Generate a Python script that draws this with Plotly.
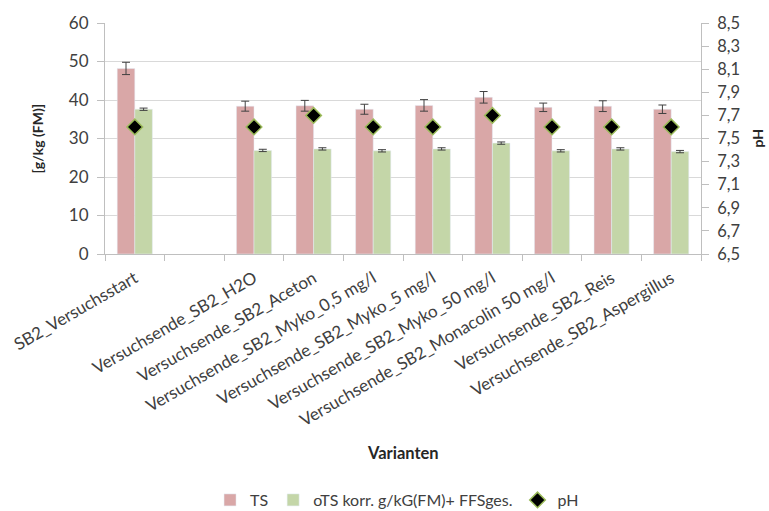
import plotly.graph_objects as go

categories = ["SB2_Versuchsstart", " ", "Versuchsende_SB2_H2O", "Versuchsende_SB2_Aceton",
              "Versuchsende_SB2_Myko_0,5 mg/l", "Versuchsende_SB2_Myko_5 mg/l",
              "Versuchsende_SB2_Myko_50 mg/l", "Versuchsende_SB2_Monacolin 50 mg/l",
              "Versuchsende_SB2_Reis", "Versuchsende_SB2_Aspergillus"]
ts_values = [48.2, None, 38.4, 38.5, 37.6, 38.6, 40.7, 38.1, 38.4, 37.6]
ts_errors = [1.6, None, 1.3, 1.4, 1.3, 1.5, 1.5, 1.1, 1.4, 1.1]
ots_values = [37.6, None, 26.9, 27.3, 26.8, 27.3, 28.8, 26.8, 27.3, 26.6]
ots_errors = [0.3, None, 0.3, 0.3, 0.3, 0.3, 0.3, 0.3, 0.3, 0.3]
ph_values = [7.6, None, 7.6, 7.7, 7.6, 7.6, 7.7, 7.6, 7.6, 7.6]

FONT = "Lato, 'Open Sans', sans-serif"
TXT = "#404040"

fig = go.Figure()
fig.add_trace(go.Bar(
    x=categories, y=ts_values, name="TS", marker=dict(color="#D9A7A7"),
    error_y=dict(type="data", array=ts_errors, color="#404040", thickness=1, width=4),
    offsetgroup="a"))
fig.add_trace(go.Bar(
    x=categories, y=ots_values, name="oTS korr. g/kG(FM)+ FFSges.", marker=dict(color="#C4D6A8"),
    error_y=dict(type="data", array=ots_errors, color="#404040", thickness=1, width=4),
    offsetgroup="b"))
fig.add_trace(go.Scatter(
    x=categories, y=ph_values, name="pH", mode="markers", yaxis="y2",
    marker=dict(symbol="diamond", size=12, color="black", line=dict(color="#9BBB59", width=1.5))))

fig.update_layout(
    width=769, height=511,
    margin=dict(l=105, r=68, t=23, b=257, autoexpand=False),
    paper_bgcolor="white", plot_bgcolor="white",
    separators=",.",
    barmode="group", bargap=0.41, bargroupgap=0,
    font=dict(family=FONT, color=TXT, size=14),
    showlegend=True,
    legend=dict(orientation="h", x=0.49, xanchor="center", y=-1.065, yanchor="middle",
                font=dict(size=16, color=TXT), traceorder="normal", itemwidth=30),
    xaxis=dict(type="category", categoryorder="array", categoryarray=categories,
               range=[-0.5, 9.5], autorange=False,
               tickangle=-30, tickfont=dict(size=17, color=TXT), ticklabelstandoff=7,
               showline=True, linecolor="#BFBFBF", linewidth=1,
               ticks="outside", tickson="boundaries", ticklen=6, tickcolor="#BFBFBF",
               showgrid=False, automargin=False),
    yaxis=dict(range=[0, 60], dtick=10, showgrid=True, gridcolor="#D9D9D9", gridwidth=1,
               showline=True, linecolor="#BFBFBF", ticks="outside", ticklen=7, tickcolor="#BFBFBF",
               tickfont=dict(size=17, color=TXT), zeroline=False, ticklabelstandoff=5,
               automargin=False),
    yaxis2=dict(range=[6.5, 8.5], dtick=0.2, tick0=6.5, tickformat=".1f", overlaying="y", side="right",
                showgrid=False, showline=True, linecolor="#BFBFBF", ticks="outside", ticklen=7,
                tickcolor="#BFBFBF", tickfont=dict(size=16.5, color=TXT), zeroline=False,
                ticklabelstandoff=5, automargin=False),
    annotations=[
        dict(text="<b>[g/kg (FM)]</b>", xref="paper", yref="paper", x=-0.114, y=0.5, textangle=-90,
             xanchor="center", yanchor="middle",
             showarrow=False, font=dict(size=14, color="#262626")),
        dict(text="<b>pH</b>", xref="paper", yref="paper", x=1.094, y=0.5, textangle=-90,
             xanchor="center", yanchor="middle",
             showarrow=False, font=dict(size=14, color="#262626")),
        dict(text="<b>Varianten</b>", xref="paper", yref="paper", x=0.5, y=-0.861,
             xanchor="center", yanchor="middle",
             showarrow=False, font=dict(size=16.5, color="#262626")),
    ],
)

fig.write_html("out.html", config={"displayModeBar": False},
               post_script="document.body.style.margin='0px';document.body.style.overflow='hidden';")
